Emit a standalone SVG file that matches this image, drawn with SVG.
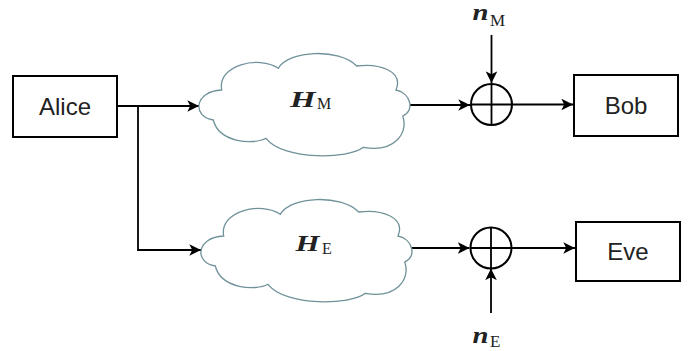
<svg xmlns="http://www.w3.org/2000/svg" width="690" height="351" viewBox="0 0 690 351">
<defs>
<style>
.box{fill:#fff;stroke:#000;stroke-width:2}
.lbl{font-family:"Liberation Sans",Arial,sans-serif;font-size:24px;fill:#222;text-anchor:middle}
.cloud{fill:#fff;stroke:#6f9199;stroke-width:1.3}
.line{fill:none;stroke:#000;stroke-width:1.8}
.sum{fill:#fff;stroke:#000;stroke-width:2}
.mb{font-family:"Liberation Serif","Times New Roman",serif;font-weight:bold;font-style:italic;fill:#222}
.mr{font-family:"Liberation Serif","Times New Roman",serif;fill:#222}
</style>
<marker id="arr" viewBox="0 0 10 10" refX="10" refY="5" markerWidth="6.5" markerHeight="6.5" markerUnits="strokeWidth" orient="auto">
<path d="M0,0 L10,5 L0,10 L2.5,5 Z" fill="#000"/>
</marker>
<path id="cloudShape" d="M14.3,67 C-7,64 -5,38 22.7,37 C18,12 60,2 79.3,15.3 C90,-3 140,-5 157.7,13 C180,10 205,18 197,37 C212,40 216,58 203.7,63 C210,80 195,100 164.3,94.3 C150,106 85,108 67,85.3 C55,92 20,90 14.3,67 Z"/>
</defs>

<g id="connectors">
<path class="line" d="M117,106 H199" marker-end="url(#arr)"/>
<path class="line" d="M138,106 V250 H201" marker-end="url(#arr)"/>
<path class="line" d="M410,105 H470" marker-end="url(#arr)"/>
<path class="line" d="M491.5,35 V83" marker-end="url(#arr)"/>
<path class="line" d="M512.5,104.5 H573" marker-end="url(#arr)"/>
<path class="line" d="M411.5,248 H469.5" marker-end="url(#arr)"/>
<path class="line" d="M491,313 V268.5" marker-end="url(#arr)"/>
<path class="line" d="M511.5,248 H575" marker-end="url(#arr)"/>
</g>

<g id="alice">
<rect class="box" x="13" y="76" width="104" height="61"/>
<text class="lbl" x="65" y="114.5">Alice</text>
</g>

<g id="cloud-m">
<use href="#cloudShape" class="cloud" transform="translate(199,53)"/>
<text class="mb" x="290" y="107" font-size="23" textLength="25.5" lengthAdjust="spacingAndGlyphs">H</text>
<text class="mr" x="317" y="108.5" font-size="16">M</text>
</g>

<g id="cloud-e">
<use href="#cloudShape" class="cloud" transform="translate(201,199)"/>
<text class="mb" x="295.5" y="251" font-size="23" textLength="24" lengthAdjust="spacingAndGlyphs">H</text>
<text class="mr" x="322" y="253.5" font-size="16">E</text>
</g>

<g id="sum-m">
<circle class="sum" cx="491.5" cy="104.5" r="20.5"/>
<path class="line" d="M471,104.5 H512 M491.5,84 V125"/>
</g>

<g id="sum-e">
<circle class="sum" cx="491" cy="248" r="20.5"/>
<path class="line" d="M470.5,248 H511.5 M491,227.5 V268.5"/>
</g>

<g id="noise-m">
<text class="mb" x="472.5" y="19.5" font-size="24" textLength="16" lengthAdjust="spacingAndGlyphs">n</text>
<text class="mr" x="490" y="25.5" font-size="17">M</text>
</g>

<g id="noise-e">
<text class="mb" x="472.5" y="343" font-size="24" textLength="16" lengthAdjust="spacingAndGlyphs">n</text>
<text class="mr" x="490" y="347" font-size="17">E</text>
</g>

<g id="bob">
<rect class="box" x="574" y="75" width="104" height="61"/>
<text class="lbl" x="626" y="113.5">Bob</text>
</g>

<g id="eve">
<rect class="box" x="576" y="222" width="104" height="59"/>
<text class="lbl" x="628" y="259.5">Eve</text>
</g>
</svg>
